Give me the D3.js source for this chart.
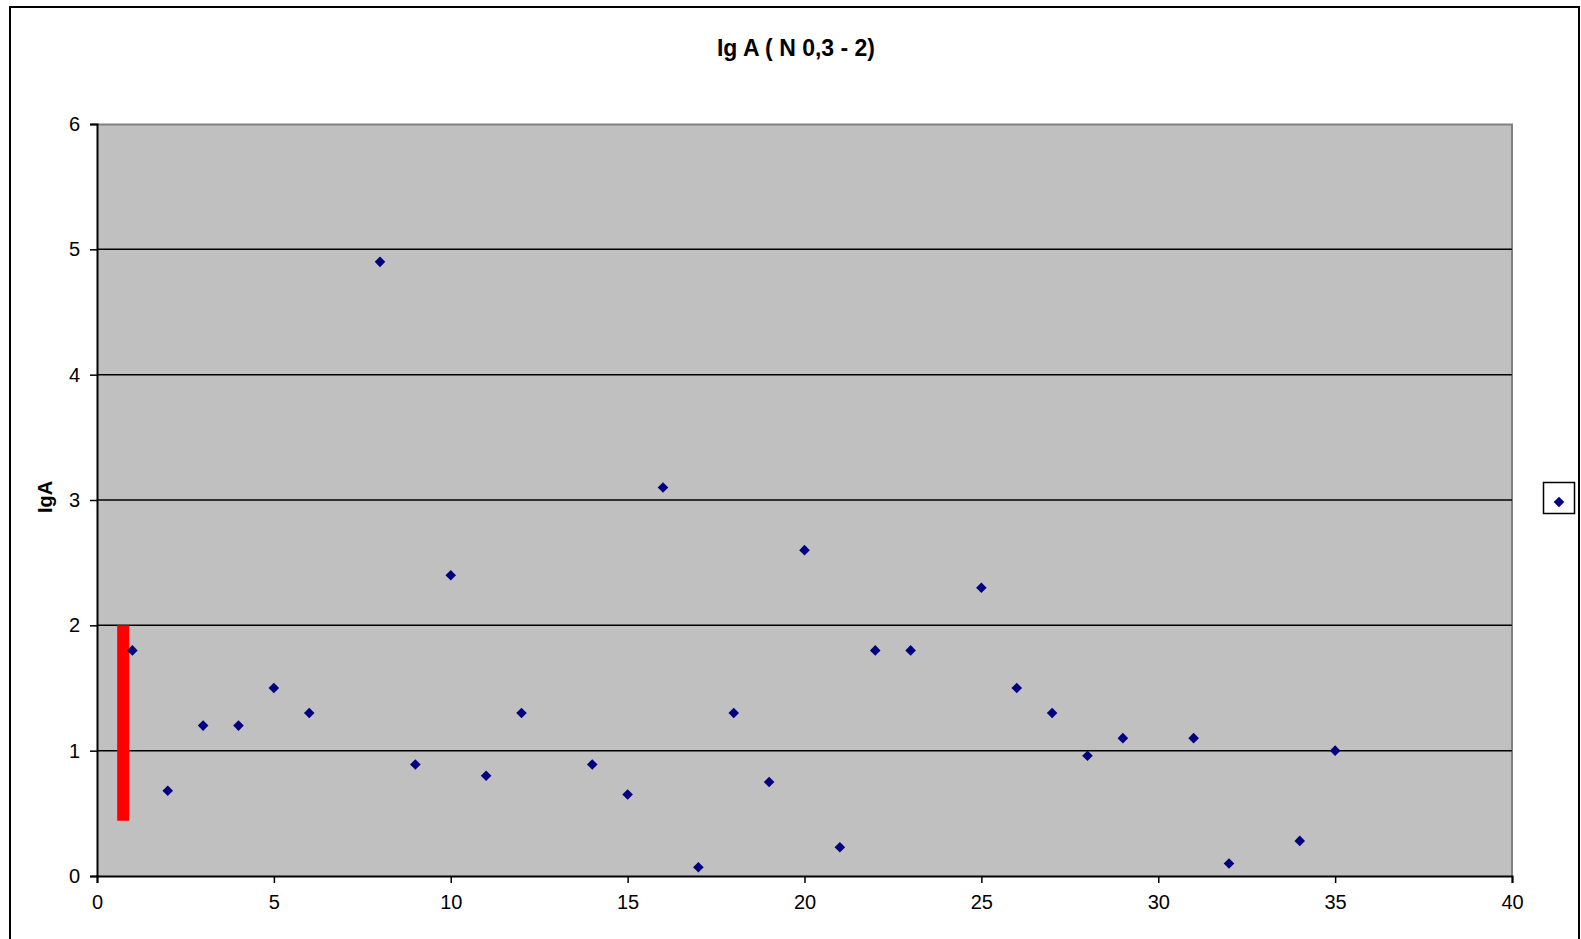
<!DOCTYPE html>
<html>
<head>
<meta charset="utf-8">
<script src="https://cdn.jsdelivr.net/npm/d3@7"></script>
<style>
  body { margin: 0; background: #fff; }
  text { font-family: Arial, "Liberation Sans", sans-serif; }
</style>
</head>
<body>
<div id="chart"></div>
<script>
// sample number on x, IgA value on y
var sampleNo = [1, 2, 3, 4, 5, 6, 8, 9, 10, 11, 12, 14, 15, 16, 17, 18, 19, 20, 21, 22, 23, 25, 26, 27, 28, 29, 31, 32, 34, 35]
var igaValues = [1.8, 0.68, 1.2, 1.2, 1.5, 1.3, 4.9, 0.89, 2.4, 0.8, 1.3, 0.89, 0.65, 3.1, 0.07, 1.3, 0.75, 2.6, 0.23, 1.8, 1.8, 2.3, 1.5, 1.3, 0.96, 1.1, 1.1, 0.1, 0.28, 1.0]

// the red bar at the left (normal range)
var rangeX = 0.74
var rangeLow = 0.44
var rangeHigh = 2

var xTicks = [0, 5, 10, 15, 20, 25, 30, 35, 40]
var yTicks = [0, 1, 2, 3, 4, 5, 6]

var titleText = "Ig A ( N 0,3 - 2)"
var yLabel = "IgA"

const W = 1581, H = 939
const margin = {top: 124, right: 69, bottom: 63, left: 97}
const width = W - margin.left - margin.right,
  height = H - margin.top - margin.bottom

var svg = d3.select("#chart")
  .append("svg")
  .attr("width", W)
  .attr("height", H)

// outer chart frame (bottom runs off the page)
svg.append("rect")
  .attr("x", 10)
  .attr("y", 7)
  .attr("width", 1569)
  .attr("height", 960)
  .attr("fill", "#fff")
  .attr("stroke", "#000")
  .attr("stroke-width", 2)

svg.append("text")
  .attr("x", 796)
  .attr("y", 56)
  .attr("text-anchor", "middle")
  .style("font-size", "23px")
  .style("font-weight", "bold")
  .text(titleText)

var g = svg.append("g")
  .attr("transform", `translate(${margin.left},${margin.top})`)

var xScale = d3.scaleLinear().domain([0, 40]).range([0, width])
var yScale = d3.scaleLinear().domain([0, 6]).range([height, 0])

// plot background
g.append("rect")
  .attr("width", width)
  .attr("height", height)
  .attr("fill", "#c0c0c0")

// top and right edges of plot area in grey
g.append("path")
  .attr("d", `M0,0.5H${width}V${height}`)
  .attr("fill", "none")
  .attr("stroke", "#808080")
  .attr("stroke-width", 2)

// gridlines
g.append("g")
  .selectAll("line")
  .data(yTicks.filter(d => d > 0 && d < 6))
  .join("line")
  .attr("x1", 0)
  .attr("x2", width)
  .attr("y1", d => yScale(d))
  .attr("y2", d => yScale(d))
  .attr("stroke", "#000")
  .attr("stroke-width", 1.5)

// axes
var xAxis = g.append("g")
  .attr("transform", `translate(0,${height})`)
  .call(d3.axisBottom(xScale).tickValues(xTicks).tickFormat(d3.format("d"))
    .tickSize(7).tickSizeOuter(7).tickPadding(12))
var yAxis = g.append("g")
  .call(d3.axisLeft(yScale).tickValues(yTicks).tickFormat(d3.format("d"))
    .tickSize(7).tickSizeOuter(7).tickPadding(10))

;[xAxis, yAxis].forEach(function (ax) {
  ax.select(".domain").attr("stroke", "#000").attr("stroke-width", 2)
  ax.selectAll(".tick line").attr("stroke", "#000").attr("stroke-width", 1.5)
  ax.selectAll("text")
    .attr("fill", "#000")
    .style("font-size", "20px")
    .style("font-family", "Arial, 'Liberation Sans', sans-serif")
})

// red normal range bar
g.append("line")
  .attr("x1", xScale(rangeX))
  .attr("x2", xScale(rangeX))
  .attr("y1", yScale(rangeLow))
  .attr("y2", yScale(rangeHigh))
  .attr("stroke", "#ff0000")
  .attr("stroke-width", 12)

// diamond markers
var diamond = d3.symbol().type(d3.symbolSquare).size(56)
g.append("g")
  .selectAll("path")
  .data(sampleNo.map((s, i) => ({x: s, y: igaValues[i]})))
  .join("path")
  .attr("d", diamond)
  .attr("transform", d => `translate(${xScale(d.x)},${yScale(d.y)}) rotate(45)`)
  .attr("fill", "#000080")

// y axis title
svg.append("text")
  .attr("transform", "translate(52,497) rotate(-90)")
  .attr("text-anchor", "middle")
  .style("font-size", "20px")
  .style("font-weight", "bold")
  .text(yLabel)

// legend box
svg.append("rect")
  .attr("x", 1543.5)
  .attr("y", 482.5)
  .attr("width", 31)
  .attr("height", 31)
  .attr("fill", "#fff")
  .attr("stroke", "#000")
  .attr("stroke-width", 1.5)
svg.append("path")
  .attr("d", diamond)
  .attr("transform", "translate(1559,502) rotate(45)")
  .attr("fill", "#000080")
</script>
</body>
</html>
